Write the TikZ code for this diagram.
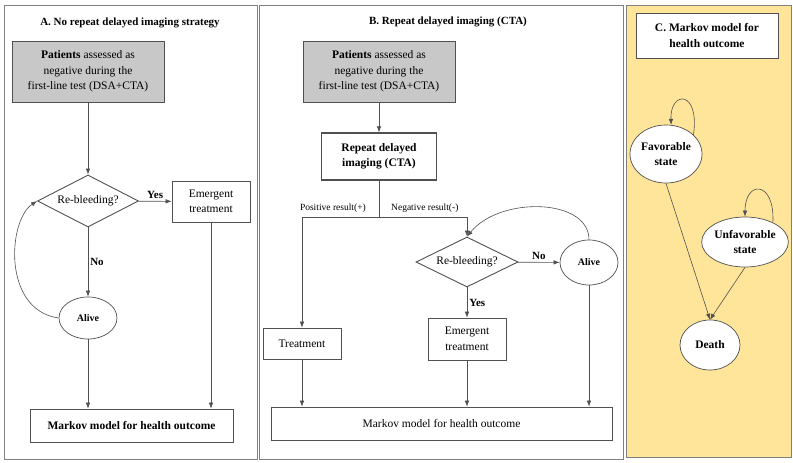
\documentclass[tikz,border=0pt]{standalone}
\usepackage{fontspec}
\setmainfont{Liberation Serif}
\usepackage{tikz}
\usetikzlibrary{shapes,arrows.meta,positioning,calc}
\definecolor{panelyellow}{RGB}{255,229,153}
\definecolor{boxgray}{RGB}{200,200,200}
\definecolor{linegray}{RGB}{80,80,80}
\newcommand{\mainfs}{\fontsize{11.5}{15.5}\selectfont}
\tikzstyle{box} = [draw=linegray,line width=0.7pt,rectangle,align=center,inner sep=1pt,font=\mainfs]
\tikzstyle{patient} = [box,fill=boxgray,minimum width=152pt,minimum height=61pt]
\tikzstyle{decision} = [draw=linegray,line width=0.9pt,diamond,aspect=2,inner sep=0pt,minimum width=101pt,minimum height=52pt,font=\mainfs]
\tikzstyle{state} = [draw=linegray,line width=0.7pt,ellipse,inner sep=0pt,align=center,font=\bfseries\mainfs]
\tikzstyle{alive} = [state,minimum width=58pt,minimum height=42pt,font=\bfseries\fontsize{10}{12}\selectfont]
\tikzstyle{lbl} = [font=\bfseries\fontsize{11}{13}\selectfont,inner sep=2pt]
\tikzstyle{result} = [font=\fontsize{9.5}{11}\selectfont,inner sep=1pt]
\tikzstyle{title} = [font=\bfseries\fontsize{11}{14}\selectfont]
\tikzstyle{flow} = [draw=linegray,line width=0.6pt,->]
\tikzset{>={Latex[length=6pt,width=4.5pt]}}

\begin{document}
\begin{tikzpicture}[x=1pt,y=-1pt]
    \useasboundingbox (0,0) rectangle (793,463);
    % panels
    \draw [gray,line width=0.9pt] (4,5) rectangle (257,459);
    \draw [gray,line width=0.9pt] (259,5) rectangle (623,459);
    \draw [gray,line width=0.9pt,fill=panelyellow] (626,5) rectangle (791,457);

    % A. no repeat delayed imaging
    \node [title] (titleA) at (130,23) {A. No repeat delayed imaging strategy};
    \node [patient] (patA) at (88,71.5) {\textbf{Patients} assessed as\\negative during the\\first-line test (DSA+CTA)};
    \node [decision] (bleedA) at (88,201) {Re-bleeding?};
    \node [box,minimum width=78pt,minimum height=41pt] (emergA) at (211,201.5) {Emergent\\treatment};
    \node [alive] (aliveA) at (88,318) {Alive};
    \node [box,minimum width=203pt,minimum height=33pt,font=\bfseries\mainfs] (markovA) at (131.5,425.5) {Markov model for health outcome};
    \draw [flow] (patA) -- (bleedA);
    \draw [flow] (bleedA) -- node [above,lbl] {Yes} (emergA);
    \draw [flow] (bleedA) -- node [right,lbl] {No} (aliveA);
    \draw [flow] (aliveA.west) .. controls (2,310) and (8,220) .. (bleedA.west);
    \draw [flow] (aliveA) -- (aliveA |- markovA.north);
    \draw [flow] (emergA) -- (emergA |- markovA.north);

    % B. repeat delayed imaging
    \node [title] (titleB) at (448,22) {B. Repeat delayed imaging (CTA)};
    \node [patient] (patB) at (379,71.5) {\textbf{Patients} assessed as\\negative during the\\first-line test (DSA+CTA)};
    \node [box,line width=1.3pt,minimum width=115pt,minimum height=47pt,font=\bfseries\mainfs] (repeat) at (379,156.5) {Repeat delayed\\imaging (CTA)};
    \coordinate (split) at (379,217);
    \node [result,anchor=south east] (poslbl) at ([xshift=-12pt,yshift=3pt]split) {Positive result(+)};
    \node [result,anchor=south west] (neglbl) at ([xshift=11pt,yshift=3pt]split) {Negative result(-)};
    \node [decision,minimum width=102pt,minimum height=50pt] (bleedB) at (467,262) {Re-bleeding?};
    \node [alive,minimum height=45pt] (aliveB) at (589,262.5) {Alive};
    \node [box,minimum width=78pt,minimum height=42pt] (emergB) at (467,339) {Emergent\\treatment};
    \node [box,minimum width=78pt,minimum height=31pt] (treat) at (302,343.5) {Treatment};
    \node [box,minimum width=341pt,minimum height=33pt] (markovB) at (441.5,423.5) {Markov model for health outcome};
    \draw [flow] (patB) -- (repeat);
    \draw [draw=linegray,line width=0.6pt] (repeat) -- (split);
    \draw [flow] (split) -| (treat);
    \draw [flow] (split) -| (bleedB);
    \draw [flow] (bleedB) -- node [above,lbl] {No} (aliveB);
    \draw [flow] (bleedB) -- node [right,lbl] {Yes} (emergB);
    \draw [flow] (aliveB.north) .. controls (589,198) and (500,196) .. (bleedB.north);
    \draw [flow] (treat) -- (treat |- markovB.north);
    \draw [flow] (emergB) -- (emergB |- markovB.north);
    \draw [flow] (aliveB) -- (aliveB |- markovB.north);

    % C. Markov model
    \node [box,fill=white,minimum width=142pt,minimum height=45pt,font=\bfseries\mainfs] (titleC) at (707,35.5) {C. Markov model for\\health outcome};
    \node [state,fill=white,minimum width=72pt,minimum height=58pt] (fav) at (666,154) {Favorable\\state};
    \node [state,fill=white,minimum width=66pt,minimum height=50pt] (unfav) at (745,242) {Unfavorable\\state};
    \node [state,fill=white,minimum width=60pt,minimum height=50pt] (death) at (710,345) {Death};
    \draw [flow] (fav.35) .. controls (700,90) and (670,90) .. (fav.80);
    \draw [flow] (unfav.35) .. controls (775,180) and (745,180) .. (unfav.north);
    \draw [flow] (fav.south) -- (death.north);
    \draw [flow] (unfav.south) -- (death.north);
\end{tikzpicture}
\end{document}
